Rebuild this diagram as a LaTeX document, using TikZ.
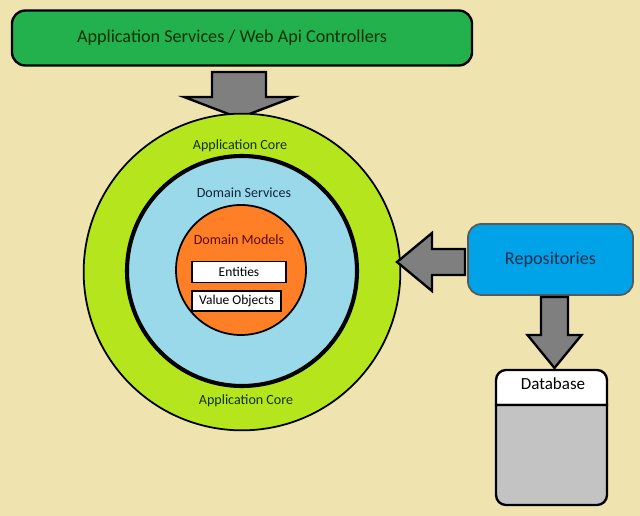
\documentclass[tikz,border=0pt]{standalone}
\usepackage{fontspec}
\setmainfont{Carlito}
\usetikzlibrary{positioning}
\definecolor{bgbeige}{HTML}{EFE4B0}
\definecolor{greenbox}{HTML}{22B14C}
\definecolor{limering}{HTML}{B5E61D}
\definecolor{skyring}{HTML}{99D9EA}
\definecolor{orangecore}{HTML}{FF7F27}
\definecolor{repoblue}{HTML}{00A2E8}
\definecolor{arrowgrey}{HTML}{7F7F7F}
\definecolor{dbgrey}{HTML}{C3C3C3}
\definecolor{greentext}{HTML}{10300A}
\definecolor{skytext}{HTML}{10283A}
\definecolor{modeltext}{HTML}{5A0A0A}
\definecolor{repotext}{HTML}{1F2F4F}
\tikzset{
  blockarrow/.style={fill=arrowgrey, draw=black, line width=2pt, line join=miter},
  appbox/.style={draw=black, fill=greenbox, line width=2pt, rounded corners=0.4cm,
    minimum width=13.8cm, minimum height=1.65cm},
  ring/.style={circle, draw=black, inner sep=0pt},
  ringlabel/.style={font=\fontsize{12}{14}\selectfont},
  itembox/.style={draw=black, fill=white, line width=1pt, inner sep=0pt,
    font=\fontsize{11.5}{13}\selectfont},
  repobox/.style={draw=black!65, fill=repoblue, line width=1.5pt, rounded corners=0.4cm,
    minimum width=4.95cm, minimum height=2.13cm, text=repotext, font=\fontsize{15.5}{18}\selectfont}
}
% down arrow: x, shaft top, head base, tip, shaft half width, head half width
\newcommand{\downblock}[6]{%
  \draw[blockarrow] (#1-#5,#2) -- (#1+#5,#2) -- (#1+#5,#3) -- (#1+#6,#3)
    -- (#1,#4) -- (#1-#6,#3) -- (#1-#5,#3) -- cycle;
}
% left arrow: y, shaft end, head base, tip, shaft half width, head half width
\newcommand{\leftblock}[6]{%
  \draw[blockarrow] (#2,#1-#5) -- (#2,#1+#5) -- (#3,#1+#5) -- (#3,#1+#6)
    -- (#4,#1) -- (#3,#1-#6) -- (#3,#1-#5) -- cycle;
}
\begin{document}
\begin{tikzpicture}[x=0.03cm, y=-0.03cm]
  \fill[bgbeige] (0,0) rectangle (640,516);
  \useasboundingbox (0,0) rectangle (640,516);

  % top layer
  \node[appbox] (appsvc) at (242,38) {};
  \node[text=greentext, font=\fontsize{15.5}{18}\selectfont] (appsvctext) at (232,38) {Application Services / Web Api Controllers};
  \downblock{239}{72}{97}{118}{27}{55}

  % rings
  \node[ring, fill=limering, line width=1.5pt, minimum size=9.5cm] (core) at (242,272) {};
  \node[ring, fill=skyring, line width=3.5pt, minimum size=6.9cm] (services) at (242,271) {};
  \node[ring, fill=orangecore, line width=1.5pt, minimum size=3.9cm] (models) at (241,270) {};

  \node[ringlabel, text=greentext] (coretop) at (240,146) {Application Core};
  \node[ringlabel, text=greentext] (corebottom) at (246,401) {Application Core};
  \node[ringlabel, text=skytext] (servlabel) at (244,193) {Domain Services};
  \node[ringlabel, text=modeltext] (modlabel) at (239,240) {Domain Models};
  \node[itembox, minimum width=2.82cm, minimum height=0.63cm] (entities) at (239,272) {Entities};
  \node[itembox, minimum width=2.67cm, minimum height=0.6cm] (valueobj) at (236.5,301) {Value Objects};

  % repositories
  \node[repobox] (repos) at (550.5,259.5) {Repositories};
  \leftblock{262}{465}{432}{397}{13}{29}
  \downblock{554.5}{297}{335}{368}{13.5}{27}

  % database
  \draw[line width=2pt, fill=white, rounded corners=0.3cm] (496,405) -- (496,370) -- (607,370) [sharp corners] -- (607,405) -- cycle;
  \draw[line width=2pt, fill=dbgrey] (607,405) [rounded corners=0.3cm] -- (607,505) -- (496,505) [sharp corners] -- (496,405) -- cycle;
  \node[font=\fontsize{14.5}{17}\selectfont] (db) at (553,384) {Database};
\end{tikzpicture}
\end{document}
